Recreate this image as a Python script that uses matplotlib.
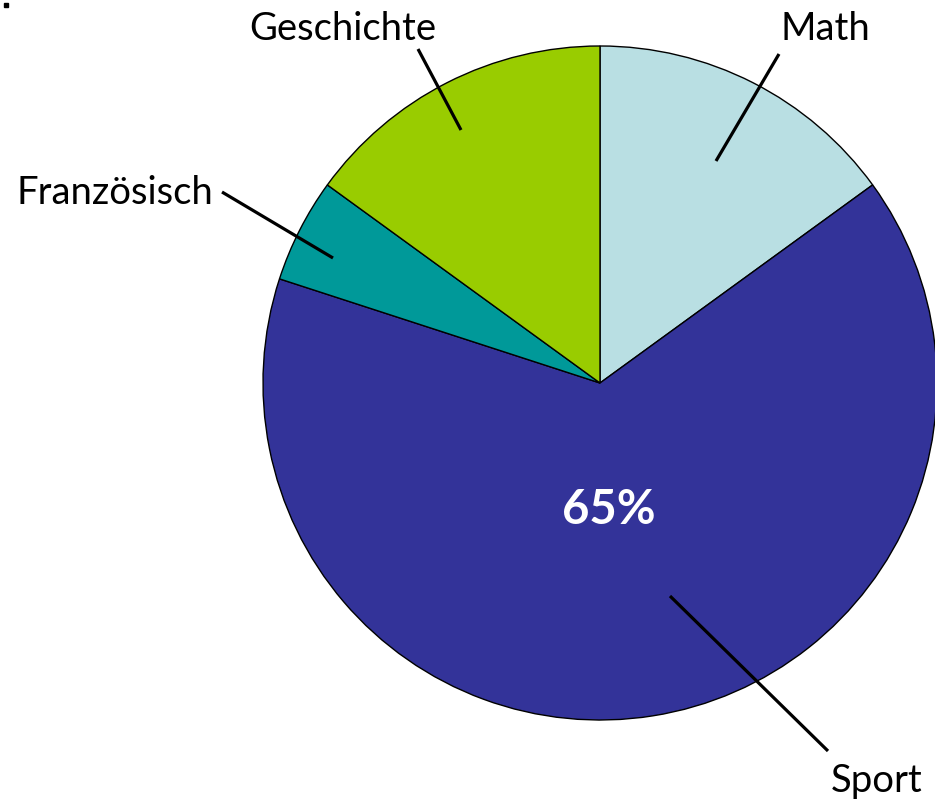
import matplotlib
matplotlib.use("Agg")
import matplotlib.pyplot as plt
import numpy as np

categories = ["Math", "Sport", "Französisch", "Geschichte"]
values = [15, 65, 5, 15]
colors = ["#B9DFE3", "#333399", "#009999", "#99CC00"]

W, H = 935, 804
fig = plt.figure(figsize=(W / 100, H / 100), dpi=100)
ax = fig.add_axes([0, 0, 1, 1])

cx, cy, R = 600, H - 384, 337
wedges, _ = ax.pie(values, colors=colors, startangle=90, counterclock=False,
                   center=(cx, cy), radius=R, frame=True,
                   wedgeprops=dict(edgecolor="black", linewidth=1.0))
ax.set_xlim(0, W)
ax.set_ylim(0, H)
ax.set_aspect("equal")
ax.axis("off")

font = "Lato"
# label layout: (text x, text baseline y in px, line start px, line end px)
layout = {
    "Math": (825, 40, (779, 55), (716, 162)),
    "Geschichte": (343, 40, (418, 50), (461, 131)),
    "Französisch": (115, 204, (222, 193), (333, 259)),
    "Sport": (877, 792, (828, 752), (670, 597)),
}
for cat in categories:
    tx, ty, p0, p1 = layout[cat]
    ax.text(tx, H - ty, cat, ha="center", va="baseline", fontsize=27.5,
            family=font, color="black")
    ax.plot([p0[0], p1[0]], [H - p0[1], H - p1[1]], color="black",
            lw=2.3, solid_capstyle="butt")

# percentage label inside Sport
i = categories.index("Sport")
ax.text(609, H - 524, f"{values[i]}%", ha="center", va="baseline",
        fontsize=34, fontweight="bold", family=font, color="white")

# small stray dot in the top-left corner
ax.plot([5.5], [H - 6], marker="s", markersize=3, color="black")

fig.savefig("out.png", dpi=100)
